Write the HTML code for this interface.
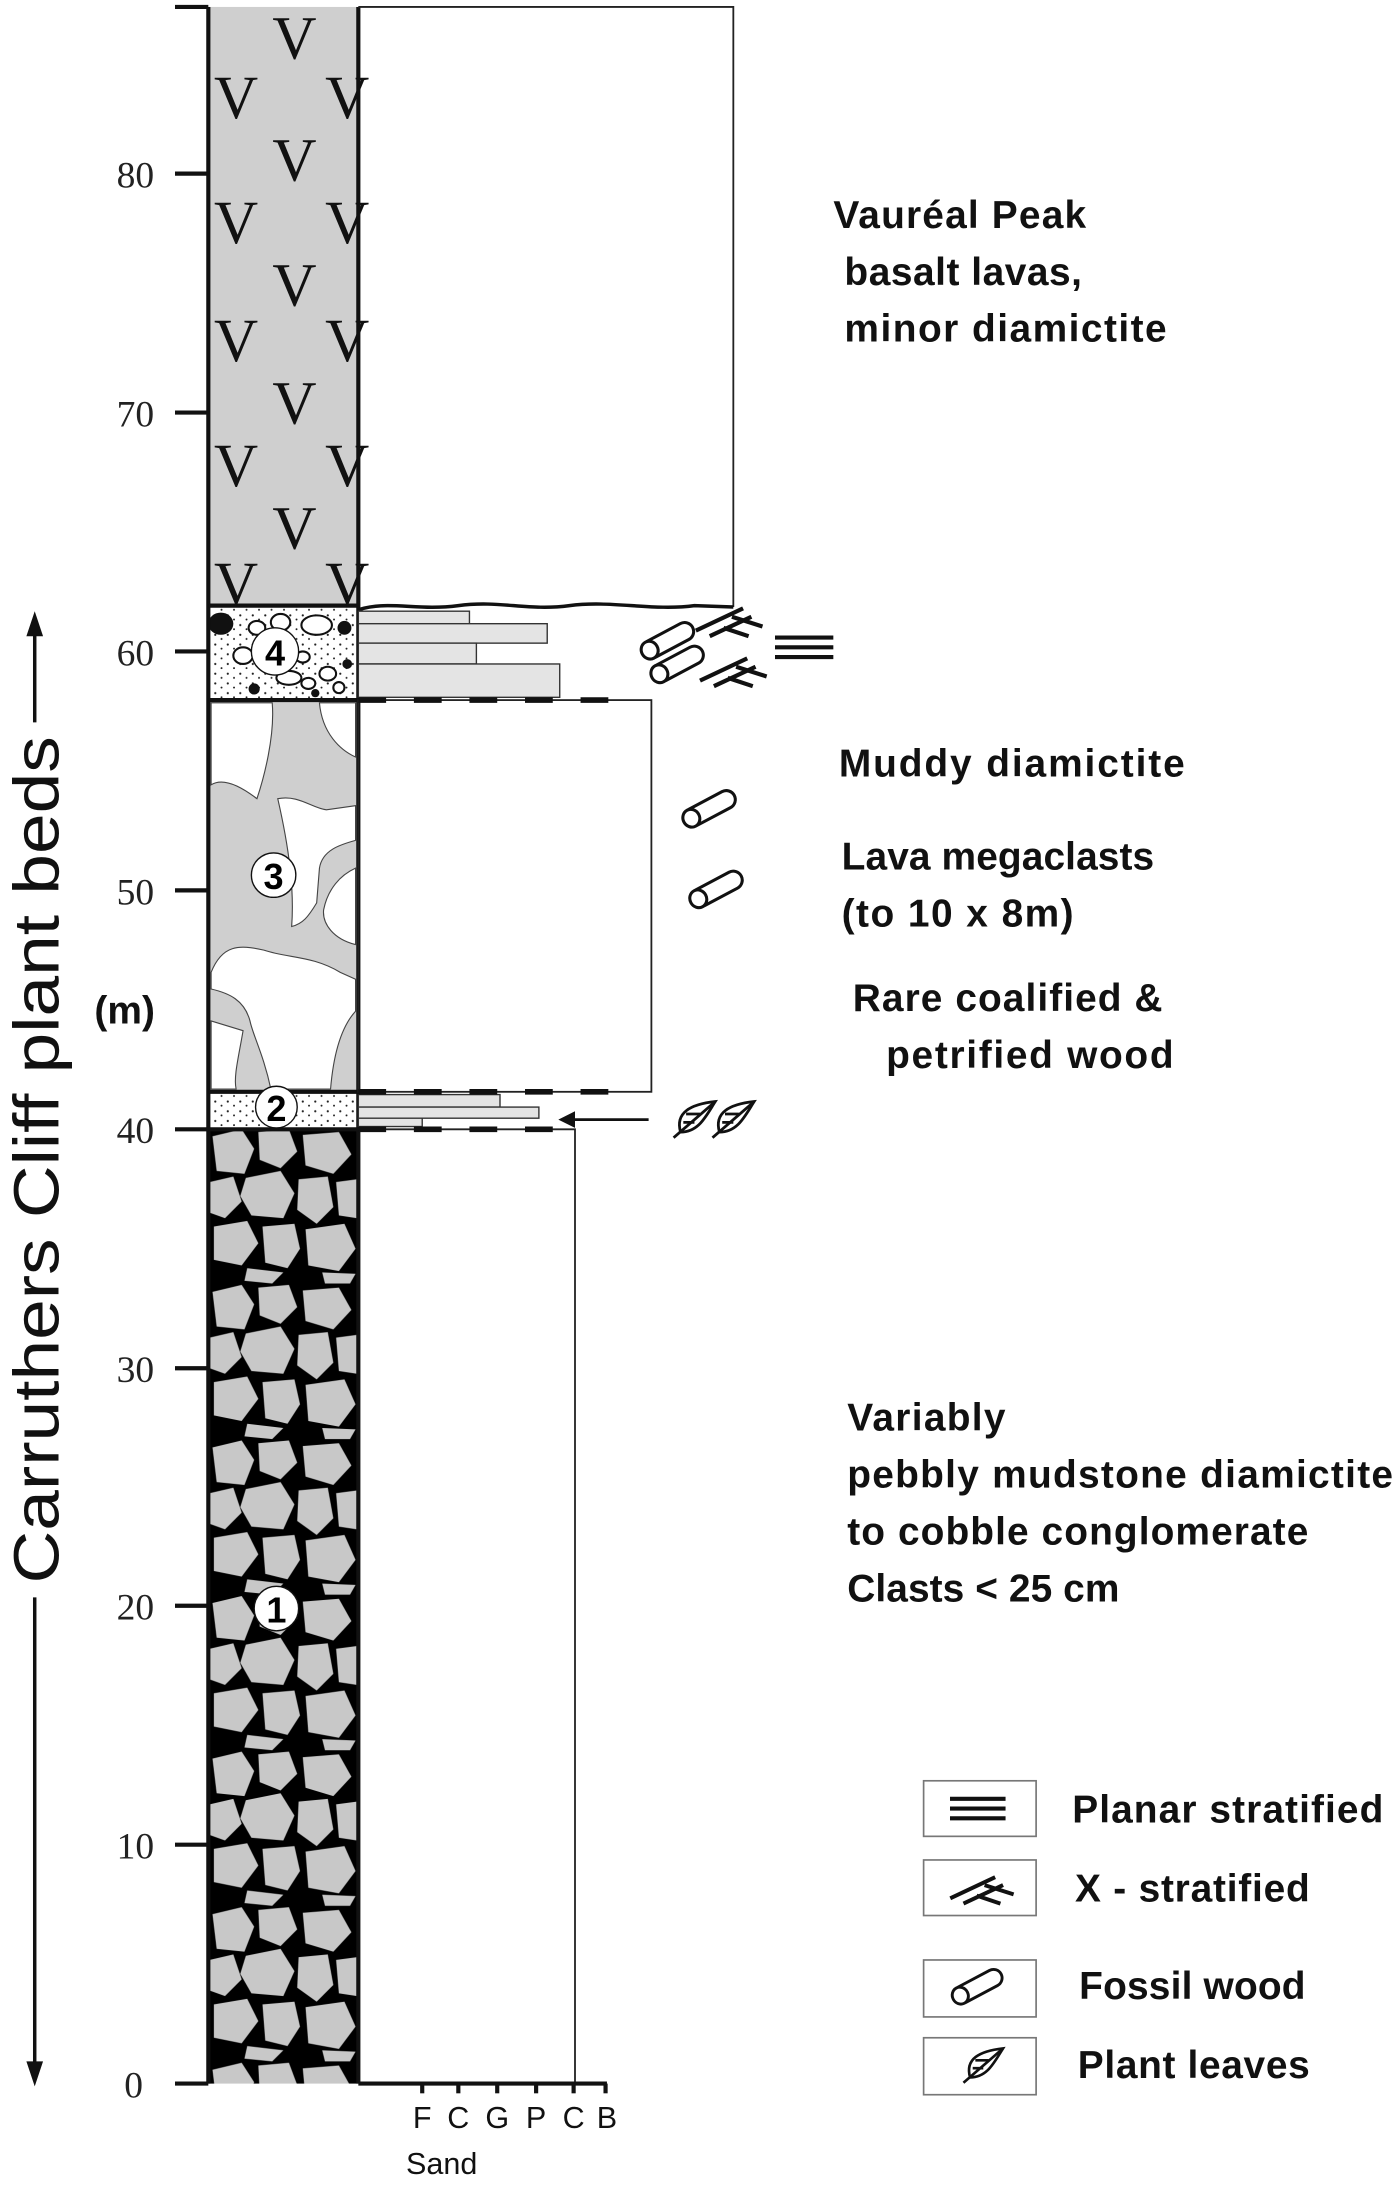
<!DOCTYPE html>
<html><head><meta charset="utf-8"><style>
html,body{margin:0;padding:0;background:#fff;}
svg{display:block;}
.b{font-family:"Liberation Sans",sans-serif;font-weight:bold;font-size:28px;fill:#111;}
.n{font-family:"Liberation Serif",serif;font-size:27px;fill:#222;}
</style></head><body>
<svg width="1400" height="2185" viewBox="0 0 1008 1573" preserveAspectRatio="none" xmlns="http://www.w3.org/2000/svg">
<defs>
<pattern id="clast" x="150" y="813" width="108" height="112" patternUnits="userSpaceOnUse">
<rect width="108" height="112" fill="#000"/>
<g fill="#c8c8c8">
<polygon points="3,5 24,0 33,14 26,32 6,30"/>
<polygon points="36,2 58,0 64,16 52,28 37,22"/>
<polygon points="68,4 94,2 103,18 90,32 70,26"/>
<polygon points="1,38 18,34 24,52 12,64 1,60"/>
<polygon points="27,35 52,30 62,46 54,64 31,62 23,48"/>
<polygon points="65,36 86,34 90,56 78,68 64,58"/>
<polygon points="92,38 107,36 107,64 94,62"/>
<polygon points="4,70 28,66 36,82 24,98 4,94"/>
<polygon points="39,70 62,68 66,86 57,100 41,96"/>
<polygon points="70,72 98,68 106,86 94,102 72,98"/>
<polygon points="28,100 54,103 46,111 26,109"/>
<polygon points="82,103 106,104 102,111 84,111"/>
</g>
</pattern>
<pattern id="dots" width="9" height="7" patternUnits="userSpaceOnUse">
<rect width="9" height="7" fill="#fff"/>
<circle cx="2" cy="2" r="0.8" fill="#222"/><circle cx="6.5" cy="5" r="0.7" fill="#222"/>
</pattern>
<g id="log">
<rect x="-20" y="-6.5" width="40" height="13" rx="6.5" fill="#fff" stroke="#111" stroke-width="2.2"/>
<ellipse cx="-15" cy="0" rx="6" ry="6.5" fill="#fff" stroke="#111" stroke-width="2.2"/>
</g>
<g id="xs" stroke="#111" stroke-width="3" fill="none">
<line x1="-24" y1="8" x2="10" y2="-8"/>
<line x1="-14" y1="12" x2="16" y2="-2"/>
<line x1="2" y1="-2" x2="24" y2="5"/>
<line x1="-4" y1="6" x2="14" y2="12"/>
</g>
<g id="leaf" stroke="#111" stroke-width="2" fill="none">
<path d="M-14,13 L16,-13"/>
<path d="M-9,9 C-13,-5 -2,-11 16,-13 C9,-2 4,9 -9,9 Z"/>
<path d="M-7,2 L1,2 M-5,-4 L5,-4"/>
</g>
</defs>

<rect x="150" y="5" width="108" height="431" fill="#cfcfcf"/>
<g font-family="Liberation Serif,serif" font-size="44" fill="#111" text-anchor="middle">
<text x="212" y="42">V</text><text x="212" y="130">V</text><text x="212" y="220">V</text><text x="212" y="305">V</text><text x="212" y="395">V</text>
<text x="170" y="85">V</text><text x="250" y="85">V</text>
<text x="170" y="175">V</text><text x="250" y="175">V</text>
<text x="170" y="260">V</text><text x="250" y="260">V</text>
<text x="170" y="350">V</text><text x="250" y="350">V</text>
<text x="170" y="435">V</text><text x="250" y="435">V</text>
</g>
<rect x="150" y="436" width="108" height="68" fill="url(#dots)"/>
<g stroke="#111" stroke-width="1.5" fill="#fff">
<ellipse cx="185" cy="452" rx="6" ry="5"/><ellipse cx="202" cy="448" rx="7" ry="6"/><ellipse cx="228" cy="450" rx="11" ry="7"/>
<ellipse cx="175" cy="472" rx="7" ry="6"/><ellipse cx="218" cy="473" rx="5" ry="4"/><ellipse cx="236" cy="485" rx="6" ry="5"/>
<ellipse cx="208" cy="488" rx="9" ry="5"/><ellipse cx="222" cy="492" rx="5" ry="4"/><ellipse cx="244" cy="495" rx="4" ry="4"/>
</g>
<g fill="#111">
<ellipse cx="159" cy="449" rx="9" ry="8"/><circle cx="248" cy="452" r="5"/><circle cx="191" cy="459" r="3"/>
<circle cx="250" cy="478" r="3.5"/><circle cx="183" cy="496" r="4"/><circle cx="227" cy="499" r="3"/>
</g>
<rect x="150" y="504" width="108" height="282" fill="#cfcfcf"/>
<g fill="#fff" stroke="#444" stroke-width="0.8">
<path d="M152,506 L196,506 C198,530 190,560 185,575 C172,565 160,560 152,565 Z"/>
<path d="M230,506 L256,506 L256,545 C245,540 232,528 230,506 Z"/>
<path d="M200,575 C215,572 225,582 235,583 L256,580 L256,605 C245,608 232,612 230,625 L228,650 C222,660 218,665 210,667 C212,640 208,610 200,575 Z"/>
<path d="M256,625 L256,680 C240,676 232,665 233,655 C236,640 245,630 256,625 Z"/>
<path d="M152,700 C160,680 172,680 190,684 C208,690 225,688 245,700 L256,705 L256,728 C245,740 240,760 238,784 L195,784 C190,760 182,745 180,735 C176,720 165,715 152,712 Z"/>
<path d="M152,735 L175,742 C172,760 168,775 170,784 L152,784 Z"/>
</g>
<rect x="150" y="786" width="108" height="27" fill="url(#dots)"/>
<rect x="150" y="813" width="108" height="687" fill="url(#clast)"/>
<g stroke="#111" stroke-width="3" fill="none">
<line x1="150" y1="5" x2="150" y2="1500"/><line x1="258" y1="5" x2="258" y2="1500"/>
<line x1="150" y1="436" x2="258" y2="436"/><line x1="150" y1="504" x2="258" y2="504"/>
<line x1="150" y1="786" x2="258" y2="786"/><line x1="150" y1="813" x2="258" y2="813"/>
<line x1="126" y1="5" x2="150" y2="5"/>
</g>
<g stroke="#222" stroke-width="1.3" fill="none">
<path d="M258,5 L528,5 L528,437"/>
<rect x="258" y="504" width="211" height="282"/>
<path d="M258,813 L414,813 L414,1500"/>
</g>
<path d="M258,439 C280,432 300,440 330,436 C360,432 380,440 410,436 C440,432 470,440 500,436 L528,437" stroke="#111" stroke-width="2.5" fill="none"/>
<g fill="#e4e4e4" stroke="#333" stroke-width="1">
<rect x="258" y="440" width="80" height="9"/><rect x="258" y="449" width="136" height="14"/>
<rect x="258" y="463" width="85" height="15"/><rect x="258" y="478" width="145" height="24"/>
<rect x="258" y="788" width="102" height="9"/><rect x="258" y="797" width="130" height="8"/><rect x="258" y="805" width="46" height="6"/>
</g>
<g stroke="#111" stroke-width="4" stroke-dasharray="20 20" fill="none">
<line x1="258" y1="504" x2="440" y2="504"/>
<line x1="258" y1="786" x2="440" y2="786"/>
<line x1="258" y1="813" x2="400" y2="813"/>
</g>
<line x1="467" y1="806" x2="410" y2="806" stroke="#111" stroke-width="2"/>
<polygon points="402,806 414,800 414,812" fill="#111"/>
<use href="#xs" x="525" y="446"/><use href="#xs" x="528" y="482"/>
<g stroke="#111" stroke-width="3"><line x1="558" y1="459" x2="600" y2="459"/><line x1="558" y1="466" x2="600" y2="466"/><line x1="558" y1="473" x2="600" y2="473"/></g>
<use href="#log" transform="translate(481,461) rotate(-28)"/>
<use href="#log" transform="translate(488,478) rotate(-28)"/>
<use href="#log" transform="translate(511,582) rotate(-28)"/>
<use href="#log" transform="translate(516,640) rotate(-28)"/>
<use href="#leaf" x="499" y="806"/><use href="#leaf" x="527" y="806"/>
<g font-family="Liberation Sans,sans-serif" font-weight="bold" font-size="26" text-anchor="middle">
<circle cx="198" cy="469" r="17" fill="#fff" stroke="#111" stroke-width="1"/><text x="198" y="479">4</text>
<circle cx="197" cy="630" r="16" fill="#fff" stroke="#111" stroke-width="1"/><text x="197" y="640">3</text>
<circle cx="199" cy="797" r="15" fill="#fff" stroke="#111" stroke-width="1"/><text x="199" y="807">2</text>
<circle cx="199" cy="1158" r="16" fill="#fff" stroke="#111" stroke-width="1"/><text x="199" y="1168">1</text>
</g>
<g stroke="#111" stroke-width="3">
<line x1="126" y1="125" x2="150" y2="125"/><line x1="126" y1="297" x2="150" y2="297"/><line x1="126" y1="469" x2="150" y2="469"/>
<line x1="126" y1="641" x2="150" y2="641"/><line x1="126" y1="813" x2="150" y2="813"/><line x1="126" y1="985" x2="150" y2="985"/>
<line x1="126" y1="1156" x2="150" y2="1156"/><line x1="126" y1="1328" x2="150" y2="1328"/><line x1="126" y1="1500" x2="150" y2="1500"/>
<line x1="258" y1="1500" x2="437" y2="1500"/>
<line x1="304" y1="1500" x2="304" y2="1507"/><line x1="330" y1="1500" x2="330" y2="1507"/><line x1="358" y1="1500" x2="358" y2="1507"/>
<line x1="386" y1="1500" x2="386" y2="1507"/><line x1="413" y1="1500" x2="413" y2="1507"/><line x1="436" y1="1500" x2="436" y2="1507"/>
</g>
<g class="n" text-anchor="end">
<text x="111" y="135">80</text><text x="111" y="307">70</text><text x="111" y="479">60</text><text x="111" y="651">50</text>
<text x="111" y="823">40</text><text x="111" y="995">30</text><text x="111" y="1166">20</text><text x="111" y="1338">10</text><text x="103" y="1510">0</text>
</g>
<g font-family="Liberation Sans,sans-serif" font-size="22" fill="#111" text-anchor="middle">
<text x="304" y="1532">F</text><text x="330" y="1532">C</text><text x="358" y="1532">G</text><text x="386" y="1532">P</text><text x="413" y="1532">C</text><text x="437" y="1532">B</text>
<text x="318" y="1565">Sand</text>
</g>
<text class="b" x="68" y="737" font-size="25">(m)</text>
<g stroke="#111" stroke-width="2.5">
<line x1="25" y1="455" x2="25" y2="520"/><polygon points="25,440 19,458 31,458" fill="#111" stroke="none"/>
<line x1="25" y1="1150" x2="25" y2="1485"/><polygon points="25,1502 19,1484 31,1484" fill="#111" stroke="none"/>
</g>
<text transform="translate(42,835) rotate(-90)" text-anchor="middle" font-family="Liberation Sans,sans-serif" font-size="46" fill="#111" textLength="610" lengthAdjust="spacingAndGlyphs">Carruthers Cliff plant beds</text>
<g class="b" lengthAdjust="spacingAndGlyphs">
<text x="600" y="164" textLength="182">Vauréal Peak</text>
<text x="608" y="205" textLength="171">basalt lavas,</text>
<text x="608" y="246" textLength="232">minor diamictite</text>
<text x="604" y="559" textLength="249">Muddy diamictite</text>
<text x="606" y="626" textLength="225">Lava megaclasts</text>
<text x="606" y="667" textLength="167">(to 10 x 8m)</text>
<text x="614" y="728" textLength="223">Rare coalified &amp;</text>
<text x="638" y="769" textLength="207">petrified wood</text>
<text x="610" y="1030" textLength="114">Variably</text>
<text x="610" y="1071" textLength="393">pebbly mudstone diamictite</text>
<text x="610" y="1112" textLength="332">to cobble conglomerate</text>
<text x="610" y="1153" textLength="196">Clasts &lt; 25 cm</text>
<text x="772" y="1312" textLength="224">Planar stratified</text>
<text x="774" y="1369" textLength="169">X - stratified</text>
<text x="777" y="1439" textLength="163">Fossil wood</text>
<text x="776" y="1496" textLength="167">Plant leaves</text>
</g>
<g fill="#fff" stroke="#777" stroke-width="1.2">
<rect x="665" y="1282" width="81" height="40"/><rect x="665" y="1339" width="81" height="40"/>
<rect x="665" y="1411" width="81" height="41"/><rect x="665" y="1467" width="81" height="41"/>
</g>
<g stroke="#111" stroke-width="3">
<line x1="684" y1="1295" x2="724" y2="1295"/><line x1="684" y1="1302" x2="724" y2="1302"/><line x1="684" y1="1309" x2="724" y2="1309"/></g>
<use href="#xs" transform="translate(707,1359) scale(0.95)"/>
<use href="#log" transform="translate(704,1430) rotate(-28) scale(0.95)"/>
<use href="#leaf" transform="translate(707,1487) scale(0.95)"/>
</svg>
</body></html>
